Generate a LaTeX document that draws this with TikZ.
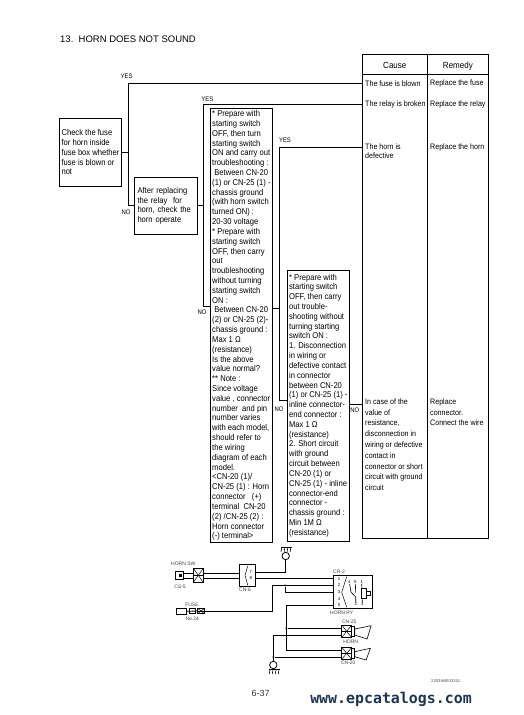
\documentclass[tikz,border=0pt]{standalone}
\usepackage{fontspec}
\setmainfont{Liberation Sans}
\newfontfamily\markfont{DejaVu Sans Mono}
\newfontfamily\narrowfont[FakeStretch=0.9]{Liberation Sans}
\usetikzlibrary{positioning}
\definecolor{marknavy}{HTML}{1B3553}

\begin{document}
\begin{tikzpicture}[
    x=1pt, y=-1pt,
    flowbox/.style={
        draw,
        align=left,
        line width=0.8pt,
        font=\narrowfont\fontsize{8.45}{9.82}\selectfont,
        inner xsep=1pt,
        inner ysep=0pt
    },
    cellbox/.style={
        draw,
        line width=0.8pt,
        inner sep=0pt,
        text height=9pt,
        text depth=1pt,
        font=\narrowfont\fontsize{8.9}{10}\selectfont
    },
    celltext/.style={
        align=left,
        inner xsep=2.7pt,
        inner ysep=0pt,
        font=\narrowfont\fontsize{7.9}{10.8}\selectfont
    },
    branch/.style={font=\narrowfont\fontsize{6.6}{7}\selectfont, inner sep=0pt},
    flowline/.style={line width=0.8pt},
    wire/.style={line width=0.8pt},
    tinytext/.style={font=\fontsize{5}{6}\selectfont, inner sep=0pt, text=black!75},
    pinnum/.style={font=\fontsize{4.3}{5}\selectfont, inner sep=0pt},
    wiredot/.style={circle, fill, inner sep=0pt, minimum size=2pt},
    partbox/.style={draw, line width=0.7pt, inner sep=0pt, fill=white},
    hatchblock/.style={
        partbox,
        path picture={
            \draw[line width=0.5pt] (path picture bounding box.north west) -- (path picture bounding box.south east);
            \draw[line width=0.5pt] (path picture bounding box.south west) -- (path picture bounding box.north east);
            \draw[line width=0.5pt] (path picture bounding box.west) -- (path picture bounding box.east);
        }
    },
    groundring/.style={draw, circle, line width=0.8pt, inner sep=0pt, minimum size=7.4pt},
    groundrake/.style={
        inner sep=0pt, minimum width=11.5pt, minimum height=5pt,
        path picture={
            \draw[line width=0.6pt] (-5.5pt,2pt) -- (5.5pt,2pt);
            \draw[line width=0.6pt] (-4.5pt,2pt) -- (-5.3pt,-2.5pt);
            \draw[line width=0.6pt] (-1.5pt,2pt) -- (-2.2pt,-2.5pt);
            \draw[line width=0.6pt] (1.5pt,2pt) -- (0.8pt,-2.5pt);
            \draw[line width=0.6pt] (4.5pt,2pt) -- (3.8pt,-2.5pt);
        }
    }
]
\useasboundingbox (0,0) rectangle (523,715);

\node[anchor=west, inner sep=0pt, font=\fontsize{9.5}{11}\selectfont] (title) at (60,39) {13.\ \ HORN DOES NOT SOUND};

% flow boxes
\node[flowbox, minimum width=62.4pt, minimum height=68.4pt] (check_fuse) at (90.5,152.3) {
Check the fuse\\
for horn inside\\
fuse box whether\\
fuse is blown or\\
not
};

\node[flowbox, text width=57pt, inner xsep=3.2pt, minimum height=57pt] (check_relay) at (166,205.8) {
After replacing\\
the relay\ \ for\\
horn, check the\\
horn operate
};

\node[flowbox, minimum width=62.2pt, minimum height=434.4pt] (check_voltage) at (241.4,325.5) {
{*} Prepare with\\
starting switch\\
OFF, then turn\\
starting switch\\
ON and carry out\\
troubleshooting :\\
\ Between CN-20\\
(1) or CN-25 (1) -\\
chassis ground\\
(with horn switch\\
turned ON) :\\
20-30 voltage\\
{*} Prepare with\\
starting switch\\
OFF, then carry\\
out\\
troubleshooting\\
without turning\\
starting switch\\
ON :\\
\ Between CN-20\\
(2) or CN-25 (2)-\\
chassis ground :\\
Max 1 Ω\\
(resistance)\\
Is the above\\
value normal?\\
{**} Note :\\
Since voltage\\
value , connector\\
number\ \ and pin\\
number varies\\
with each model,\\
should refer to\\
the wiring\\
diagram of each\\
model.\\
<CN-20 (1)/\\
CN-25 (1) : Horn\\
connector\ \ \ (+)\\
terminal\ \ CN-20\\
(2) /CN-25 (2) :\\
Horn connector\\
(-) terminal>
};

\node[flowbox, minimum width=62pt, minimum height=271pt] (check_wiring) at (318.3,405.5) {
{*} Prepare with\\
starting switch\\
OFF, then carry\\
out trouble-\\
shooting without\\
turning starting\\
switch ON :\\
1. Disconnection\\
in wiring or\\
defective contact\\
in connector\\
between CN-20\\
(1) or CN-25 (1) -\\
inline connector-\\
end connector :\\
Max 1 Ω\\
(resistance)\\
2. Short circuit\\
with ground\\
circuit between\\
CN-20 (1) or\\
CN-25 (1) - inline\\
connector-end\\
connector -\\
chassis ground :\\
Min 1M Ω\\
(resistance)
};

% cause / remedy table
\node[cellbox, minimum width=65pt, minimum height=19.4pt] (cause_head) at (394.8,64.2) {Cause};
\node[cellbox, minimum width=61.2pt, minimum height=19.4pt] (remedy_head) at (457.9,64.2) {Remedy};
\node[cellbox, minimum width=65pt, minimum height=464.4pt] (cause_col) at (394.8,306.1) {};
\node[cellbox, minimum width=61.2pt, minimum height=464.4pt] (remedy_col) at (457.9,306.1) {};
\draw[line width=1.6pt] (cause_head.south west) -- (remedy_head.south east);

\node[celltext, anchor=west] (cause_fuse) at (362.3,83.3) {The fuse is blown};
\node[celltext, anchor=west] (cause_relay) at (362.3,104.4) {The relay is broken};
\node[celltext, anchor=north west, font=\narrowfont\fontsize{7.9}{9.6}\selectfont] (cause_horn) at (362.3,143.2) {The horn is\\defective};
\node[celltext, anchor=north west] (cause_wire) at (362.3,398.4) {In case of the\\
value of\\
resistance,\\
disconnection in\\
wiring or defective\\
contact in\\
connector or short\\
circuit with ground\\
circuit};
\node[celltext, anchor=west] (remedy_fuse) at (427.3,83.3) {Replace the fuse};
\node[celltext, anchor=west] (remedy_relay) at (427.3,104.4) {Replace the relay};
\node[celltext, anchor=west] (remedy_horn) at (427.3,147.3) {Replace the horn};
\node[celltext, anchor=north west] (remedy_wire) at (427.3,398.4) {Replace\\
connector.\\
Connect the wire};

% flow connectors
\coordinate (fork_fuse) at (128.5,152.3);
\coordinate (fork_relay) at (203.4,205.8);
\coordinate (fork_horn) at (279.3,308);
\coordinate (in_voltage) at (210.3,306.7);
\coordinate (in_wiring) at (287.3,400);
\coordinate (in_horn) at (362.3,147.3);
\coordinate (out_wiring) at (349.3,404);
\coordinate (in_wire) at (362.3,404);
\coordinate (out_voltage) at (272.5,308);

\draw[flowline] (check_fuse.east) -- (fork_fuse);
\draw[flowline] (fork_fuse) |- (cause_fuse.west);
\draw[flowline] (fork_fuse) |- (check_relay.west);
\draw[flowline] (check_relay.east) -- (fork_relay);
\draw[flowline] (fork_relay) |- (cause_relay.west);
\draw[flowline] (fork_relay) |- (in_voltage);
\draw[flowline] (out_voltage) -- (fork_horn);
\draw[flowline] (fork_horn) |- (in_horn);
\draw[flowline] (fork_horn) |- (in_wiring);
\draw[flowline] (out_wiring) -- (in_wire);

\node[branch] (yes_fuse) at (126.7,76) {YES};
\node[branch] (no_fuse) at (126,212.3) {NO};
\node[branch] (yes_relay) at (207.3,99) {YES};
\node[branch] (no_relay) at (202,312.7) {NO};
\node[branch] (yes_horn) at (285,140) {YES};
\node[branch] (no_horn) at (279,409.3) {NO};
\node[branch] (no_wire) at (354.8,410) {NO};

% wiring diagram
\node[groundrake] (rake_top) at (286.3,549.5) {};
\node[groundring] (ring_top) at (285.7,556) {};
\node[groundring] (ring_low) at (273.3,665) {};
\node[groundrake] (rake_low) at (274.5,671.5) {};

\node[partbox, minimum width=8pt, minimum height=7.4pt] (cs5_plug) at (179.3,575.3) {};
\node[fill, inner sep=0pt, minimum size=3.6pt] (cs5_core) at (180.3,575.3) {};
\node[hatchblock, minimum width=10pt, minimum height=14pt] (cs5_socket) at (198.3,575.3) {};
\node[partbox, minimum width=15.6pt, minimum height=21.8pt] (cn6) at (247.2,575.2) {};
\node[pinnum] (cn6_seven) at (250.7,572.3) {7};
\node[pinnum] (cn6_eight) at (250.7,577.8) {8};
\coordinate (cn6_top) at (247.7,566);
\coordinate (cn6_mid) at (245,575.2);
\coordinate (cn6_low) at (247.7,585);
\draw[line width=0.5pt] (cn6_top) -- (cn6_mid) -- (cn6_low);

\node[partbox, minimum width=10pt, minimum height=6pt] (fuse_body) at (181.7,611.3) {};
\node[partbox, minimum width=5.7pt, minimum height=4.6pt] (fuse_link) at (192.2,611) {};
\node[hatchblock, minimum width=6.4pt, minimum height=5pt] (fuse_block) at (201,611) {};

\node[partbox, minimum width=39.7pt, minimum height=33pt] (cr2) at (352.9,591.8) {};
\node[pinnum] (pin_one) at (339,578.7) {1};
\node[pinnum] (pin_two) at (339,585.3) {2};
\node[pinnum] (pin_three) at (339,592) {3};
\node[pinnum] (pin_four) at (339,598.7) {4};
\node[pinnum] (pin_five) at (339,605.3) {5};
\node[pinnum] (relay_four) at (349.3,582.3) {4};
\node[pinnum] (relay_five) at (355.3,582.3) {5};
\node[pinnum] (relay_one) at (361.7,582.3) {1};
\node[pinnum] (relay_two) at (355.7,604) {2};
\node[pinnum] (relay_three) at (362.3,604) {3};
\coordinate (cr2_top) at (346.7,576.7);
\coordinate (cr2_mid) at (341.7,592.3);
\coordinate (cr2_low) at (346.7,607.3);
\coordinate (contact_bend) at (351,592);
\coordinate (contact_end) at (355.7,597);
\coordinate (contact_stop) at (355.7,592.5);
\draw[line width=0.5pt] (cr2_top) -- (cr2_mid) -- (cr2_low);
\draw[line width=0.6pt] (relay_four) -- (contact_bend) -- (contact_end) -- (relay_two);
\draw[line width=0.6pt] (relay_five) -- (contact_stop);
\draw[line width=0.6pt] (relay_one) -- (relay_three);
\node[partbox, minimum width=5.7pt, minimum height=10pt] (relay_coil) at (363.9,593.3) {};
\node[partbox, minimum width=3.3pt, minimum height=4.7pt] (relay_res) at (368.3,593.3) {};

\node[hatchblock, minimum width=10pt, minimum height=12.6pt] (cn25) at (346.7,631.3) {};
\node[partbox, minimum width=2.7pt, minimum height=10pt] (cn25_cap) at (353,631.7) {};
\node[hatchblock, minimum width=10pt, minimum height=12pt] (cn20) at (346.7,653.3) {};
\node[partbox, minimum width=2.7pt, minimum height=10pt] (cn20_cap) at (353,653.7) {};
\draw[line width=0.6pt] (cn25_cap.east) ++(0,-2.7) -- ++(16.4,-3.3) -- ++(-4,13.3) -- ++(-12.4,-4) -- cycle;
\draw[line width=0.6pt] (cn20_cap.east) ++(0,-2) -- ++(15.7,-3.4) -- ++(-4.3,11.7) -- ++(-11.4,-3.3) -- cycle;

\node[tinytext] (horn_sw_text) at (183.3,564) {HORN SW};
\node[tinytext] (cs5_text) at (180,586.7) {CS-5};
\node[tinytext] (cn6_text) at (245,590) {CN-6};
\node[tinytext] (fuse_text) at (192,604.3) {FUSE};
\node[tinytext] (no24_text) at (192.3,618.3) {No.24};
\node[tinytext] (cr2_text) at (339,571.7) {CR-2};
\node[tinytext] (horn_ry_text) at (341.7,612.7) {HORN RY};
\node[tinytext] (cn25_text) at (349.3,621.7) {CN-25};
\node[tinytext] (horn_text) at (350.7,641.7) {HORN};
\node[tinytext] (cn20_text) at (348.3,662.7) {CN-20};

\coordinate (wire_up_a) at (193.3,573);
\coordinate (wire_up_b) at (183.3,573);
\coordinate (wire_dn_a) at (193.3,578.3);
\coordinate (wire_dn_b) at (183.3,578.3);
\coordinate (cs5_up) at (203.3,573);
\coordinate (cs5_dn) at (203.3,578.3);
\coordinate (cn6_in_up) at (239.4,573);
\coordinate (cn6_in_dn) at (239.4,578.3);
\coordinate (cn6_out_up) at (255,572.6);
\coordinate (cn6_out_dn) at (255,578.3);
\coordinate (end_one) at (333,578.3);
\coordinate (end_two) at (333,585.3);
\coordinate (end_three) at (333,592);
\coordinate (end_five) at (333,605.3);
\coordinate (bend_fuse) at (272.3,585.3);
\coordinate (bend_horn) at (286.3,650);
\coordinate (end_cn25_a) at (341.7,628.3);
\coordinate (end_cn25_b) at (341.7,635);
\coordinate (end_cn20_a) at (341.7,650);
\coordinate (end_cn20_b) at (341.7,657);
\node[wiredot] (dot_relay) at (285,585.3) {};
\node[wiredot] (dot_horn) at (286.3,628.3) {};
\node[wiredot] (dot_ground) at (273.3,657) {};

\draw[wire] (wire_up_b) -- (wire_up_a);
\draw[wire] (wire_dn_b) -- (wire_dn_a);
\draw[wire] (cs5_up) -- (cn6_in_up);
\draw[wire] (cs5_dn) -- (cn6_in_dn);
\draw[wire] (cn6_out_up) -| (ring_top);
\draw[wire] (cn6_out_dn) -- (end_one);
\draw[wire] (fuse_body) -- (fuse_block);
\draw[wire] (fuse_block.east) -| (bend_fuse) -- (end_two);
\draw[wire] (dot_relay) |- (end_three);
\draw[wire] (end_five) -| (bend_horn) -- (end_cn20_a);
\draw[wire] (dot_horn) -- (end_cn25_a);
\draw[wire] (end_cn25_b) -| (ring_low);
\draw[wire] (dot_ground) -- (end_cn20_b);

\node[inner sep=0pt, font=\fontsize{4.2}{5}\selectfont, text=black!70] (drawing_code) at (445.7,681) {2203A6E03151};
\node[inner sep=0pt, font=\fontsize{9}{11}\selectfont, text=black!80] (page_no) at (260.7,693) {6-37};
\node[inner sep=0pt, text=marknavy, font=\markfont\bfseries\fontsize{14.9}{17}\selectfont] (watermark) at (391,699) {www.epcatalogs.com};

\end{tikzpicture}
\end{document}
